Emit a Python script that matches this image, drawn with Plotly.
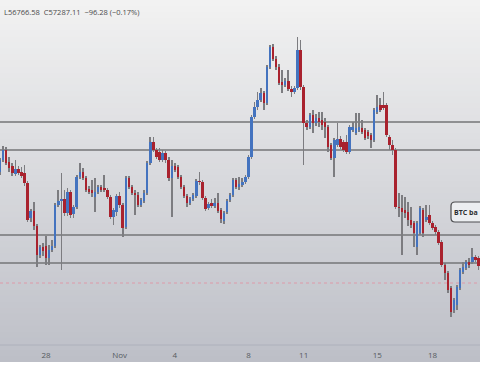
import plotly.graph_objects as go
import pandas as pd
import numpy as np

# ---------------- data (4h candles) ----------------
start_time = "2021-10-25 12:00"
end_time = "2021-11-20 14:00"

open_ = [62400, 63000, 63500, 62900, 62700, 62300, 62550, 62400, 62350, 61850,
         60100, 60450, 59700, 58250, 58650, 58700, 58100, 58500, 58700, 60750,
         60950, 61050, 60350, 61400, 60300, 60650, 62150, 62400, 62100, 61550,
         61500, 61150, 61400, 61650, 61600, 61500, 61150, 60150, 60400, 61200,
         60750, 59650, 62100, 61650, 61350, 61250, 60750, 60950, 61350, 62850,
         63900, 63500, 63400, 63000, 63350, 63000, 62100, 62700, 62650, 62150,
         61650, 61200, 60850, 61050, 61200, 61950, 61900, 61100, 60600, 60850,
         60700, 60850, 60500, 59950, 60400, 61000, 61250, 62000, 61650, 61750,
         61900, 62150, 63150, 65150, 65650, 66000, 66350, 65850, 67650, 68650,
         68050, 67650, 66900, 66750, 66950, 66550, 66400, 66600, 68500, 66650,
         64850, 64650, 65250, 64850, 65100, 65000, 64900, 64650, 63750, 63100,
         63750, 64050, 63900, 63900, 63400, 64500, 64350, 64500, 64600, 64500,
         64400, 64250, 64000, 65400, 65750, 65750, 65750, 64150, 63750, 63500,
         60650, 60600, 60500, 60400, 60000, 59850, 58650, 59350, 60500, 60000,
         60250, 59850, 59650, 59400, 58900, 57750, 57350, 56600, 55500, 55750,
         56600, 57400, 57600, 57900, 57900, 58150, 58100]
high = [63100, 63700, 63650, 63150, 62850, 63000, 62700, 62650, 62750, 61950,
        60550, 60900, 59800, 58750, 58850, 59200, 58750, 59000, 60850, 61500,
        62350, 61500, 61600, 61500, 60750, 62250, 62850, 62600, 62200, 61700,
        62000, 62100, 61750, 61750, 62250, 61600, 61250, 60600, 61300, 61400,
        60850, 62200, 62200, 61750, 61500, 61400, 61100, 61500, 62950, 64150,
        64150, 63600, 63600, 63500, 63450, 63150, 63000, 62850, 62750, 62250,
        61750, 61300, 61150, 61350, 62050, 62400, 62000, 61200, 60900, 61050,
        61100, 61350, 60600, 60450, 61050, 61350, 62100, 62100, 62150, 62100,
        62250, 63250, 65250, 65900, 66400, 66600, 66450, 67750, 68750, 68800,
        68200, 67800, 67500, 67100, 67500, 66700, 66700, 69150, 69000, 66750,
        65000, 65350, 65500, 65300, 65400, 65400, 65100, 64750, 63850, 64100,
        64850, 64200, 64000, 64250, 64750, 64900, 65350, 65350, 65000, 64600,
        64500, 64350, 65600, 66250, 66100, 66400, 65850, 64250, 64000, 63600,
        61350, 61250, 61150, 60900, 60650, 59950, 59950, 60700, 60600, 60750,
        60750, 59950, 59750, 59500, 59000, 57850, 57450, 56700, 56100, 56750,
        57600, 57900, 58000, 58100, 58600, 58250, 58200]
low = [62250, 62900, 62750, 62400, 62200, 62200, 62250, 62100, 61700, 59900,
       59900, 59500, 57650, 58100, 58200, 57750, 57750, 58400, 58600, 60650,
       57500, 60200, 60200, 60100, 60100, 60550, 62050, 62000, 61400, 61300,
       61150, 60400, 61300, 61400, 61400, 61050, 60050, 59750, 60200, 60600,
       59150, 59550, 61550, 61250, 60250, 60650, 60650, 60850, 61250, 62750,
       63400, 63050, 62900, 62900, 62850, 61950, 60150, 62400, 62050, 61550,
       61100, 60650, 60750, 60950, 61100, 61750, 61000, 60450, 60500, 60600,
       60600, 60350, 59850, 59800, 60300, 60900, 61150, 61550, 61500, 61650,
       61800, 62050, 63050, 65050, 65500, 65900, 65500, 65750, 67550, 67950,
       67500, 66750, 66350, 66650, 66450, 66150, 66300, 66500, 66500, 62750,
       64500, 64550, 64350, 64700, 64650, 64500, 64100, 63400, 63000, 62150,
       63650, 63550, 63400, 63300, 63300, 64400, 64250, 64400, 64300, 64000,
       64050, 63600, 63900, 65300, 65400, 65500, 64150, 63500, 63250, 60550,
       60150, 58250, 60100, 59700, 59600, 58650, 58250, 59250, 59150, 59900,
       59750, 59500, 59250, 58750, 57650, 57000, 56350, 55150, 55350, 55500,
       56500, 57300, 57500, 57600, 57800, 57900, 57500]
close = [63000, 63500, 62850, 62600, 62350, 62550, 62350, 62200, 61850, 60000,
         60450, 59700, 58250, 58650, 58450, 58100, 58500, 58700, 60750, 60950,
         61050, 60350, 61400, 60250, 60650, 62150, 62400, 62100, 61500, 61400,
         61350, 61400, 61650, 61500, 61500, 61150, 60150, 60500, 61200, 60750,
         59600, 62100, 61650, 61350, 61250, 60750, 61000, 61350, 62850, 63900,
         63500, 63150, 63000, 63350, 63000, 62100, 62700, 62500, 62150, 61650,
         61200, 60850, 61050, 61250, 61950, 61900, 61100, 60550, 60800, 60700,
         60850, 60450, 60050, 60350, 60950, 61250, 62000, 61650, 61800, 61900,
         62150, 63150, 65150, 65650, 66000, 66350, 65850, 67650, 68650, 68050,
         67650, 66850, 66750, 66950, 66550, 66400, 66600, 68500, 66650, 64850,
         64650, 65250, 64850, 65100, 64900, 64750, 64650, 63650, 63100, 64000,
         64050, 63650, 63500, 63400, 64650, 64650, 64600, 64650, 64400, 64100,
         64200, 64000, 65500, 65650, 65500, 65600, 64250, 63750, 63500, 60650,
         60600, 60400, 60350, 60000, 59750, 59350, 59850, 60600, 59350, 60150,
         59850, 59600, 59400, 58850, 57750, 57350, 56500, 55400, 56000, 56650,
         57500, 57650, 57900, 57750, 58150, 58000, 57700]

level_prices = [64900, 63500, 59250, 57850]
price_line = 56850
y_range = [53750, 71000]

tick_dates = ["2021-10-28", "2021-11-01", "2021-11-04", "2021-11-08",
              "2021-11-11", "2021-11-15", "2021-11-18"]
tick_labels = ["28", "Nov", "4", "8", "11", "15", "18"]

header_text = "L56766.58  C57287.11  \u221296.28 (\u22120.17%)"
box_text = "BTC ba"
box_time = "2021-11-19 01:00"
box_price = 60400

# ---------------- styling ----------------
UP = "#4473bf"
DOWN = "#a9222e"
WICK = "#7c7c80"
FONT = "Open Sans"
BAR_MS = 4 * 3600 * 1000

times = pd.date_range(start_time, periods=len(close), freq="4h")
o = np.array(open_, dtype=float)
c = np.array(close, dtype=float)
h = np.array(high, dtype=float)
lo = np.array(low, dtype=float)
body_base = np.minimum(o, c)
body_h = np.maximum(np.abs(c - o), 50)
body_col = np.where(c >= o, UP, DOWN)

fig = go.Figure()
# wicks (thin bars from low to high)
fig.add_trace(go.Bar(
    x=times, y=h - lo, base=lo,
    marker=dict(color=WICK, line=dict(width=0)),
    width=BAR_MS * 0.22, hoverinfo="skip", showlegend=False,
))
# bodies
fig.add_trace(go.Bar(
    x=times, y=body_h, base=body_base,
    marker=dict(color=body_col, line=dict(width=0)),
    width=BAR_MS * 0.8, hoverinfo="skip", showlegend=False,
))

shapes = []
# vertical background gradient (paper coords, below everything)
top_rgb = np.array([242, 242, 242])
bot_rgb = np.array([189, 191, 199])
y_bottom = -17 / 345
n_bands = 60
span = 1 - y_bottom
for i in range(n_bands):
    f0 = i / n_bands
    f1 = (i + 1) / n_bands
    col = top_rgb + (bot_rgb - top_rgb) * (f0 + f1) / 2
    shapes.append(dict(
        type="rect", xref="paper", yref="paper", layer="below",
        x0=-0.01, x1=1.01,
        y0=max(1 - f1 * span - 0.006, y_bottom), y1=1 - f0 * span + (0.01 if i == 0 else 0),
        fillcolor="rgb(%d,%d,%d)" % tuple(col.round()), line=dict(width=0),
    ))
# pane separator
shapes.append(dict(type="line", xref="paper", yref="paper", x0=0, x1=1, y0=0, y1=0,
                   line=dict(color="rgba(170,173,182,0.7)", width=1), layer="below"))
# horizontal support / resistance levels
for p in level_prices:
    shapes.append(dict(type="line", xref="paper", yref="y", x0=0, x1=1, y0=p, y1=p,
                       line=dict(color="#747477", width=1.5), layer="below"))
shapes.append(dict(type="line", xref="paper", yref="y", x0=0, x1=1,
                   y0=price_line, y1=price_line,
                   line=dict(color="#dd9aa8", width=1, dash="dot"), layer="below"))

# rounded label box (paper coords)
bx0, bx1 = 451 / 480, 1.06
by1, by0 = (345 - 202) / 345, (345 - 222) / 345
rx, ry = 4 / 480, 4 / 345
path = (f"M {bx0+rx},{by1} L {bx1},{by1} L {bx1},{by0} L {bx0+rx},{by0} "
        f"Q {bx0},{by0} {bx0},{by0+ry} L {bx0},{by1-ry} Q {bx0},{by1} {bx0+rx},{by1} Z")
shapes.append(dict(type="path", xref="paper", yref="paper", path=path,
                   fillcolor="#eceef1", line=dict(color="#4d4d50", width=1.2)))

fig.update_layout(
    width=480, height=384,
    margin=dict(l=0, r=0, t=0, b=39),
    paper_bgcolor="white", plot_bgcolor="rgba(0,0,0,0)",
    showlegend=False, hovermode=False, barmode="overlay", bargap=0,
    shapes=shapes,
    font=dict(family=FONT),
    xaxis=dict(type="date", range=[start_time, end_time],
               tickvals=tick_dates, ticktext=tick_labels,
               showgrid=False, zeroline=False, showline=False, ticks="",
               ticklabelstandoff=4,
               tickfont=dict(size=8, color="#555a60", family=FONT),
               fixedrange=True),
    yaxis=dict(range=y_range, visible=False, showgrid=False, fixedrange=True),
    annotations=[
        dict(text=header_text, xref="paper", yref="paper", x=0.004, y=(345 - 12) / 345,
             xanchor="left", yanchor="middle", showarrow=False,
             font=dict(size=7.5, color="#4a4a4a", family=FONT)),
        dict(text="<b>" + box_text + "</b>", xref="x", yref="y", x=box_time, y=box_price,
             xanchor="left", yanchor="middle", showarrow=False,
             font=dict(size=7, color="#2e2e30", family=FONT)),
    ],
)

fig.write_html("out.html", config={"displayModeBar": False},
               post_script="document.body.style.margin='0';document.body.style.overflow='hidden';")
